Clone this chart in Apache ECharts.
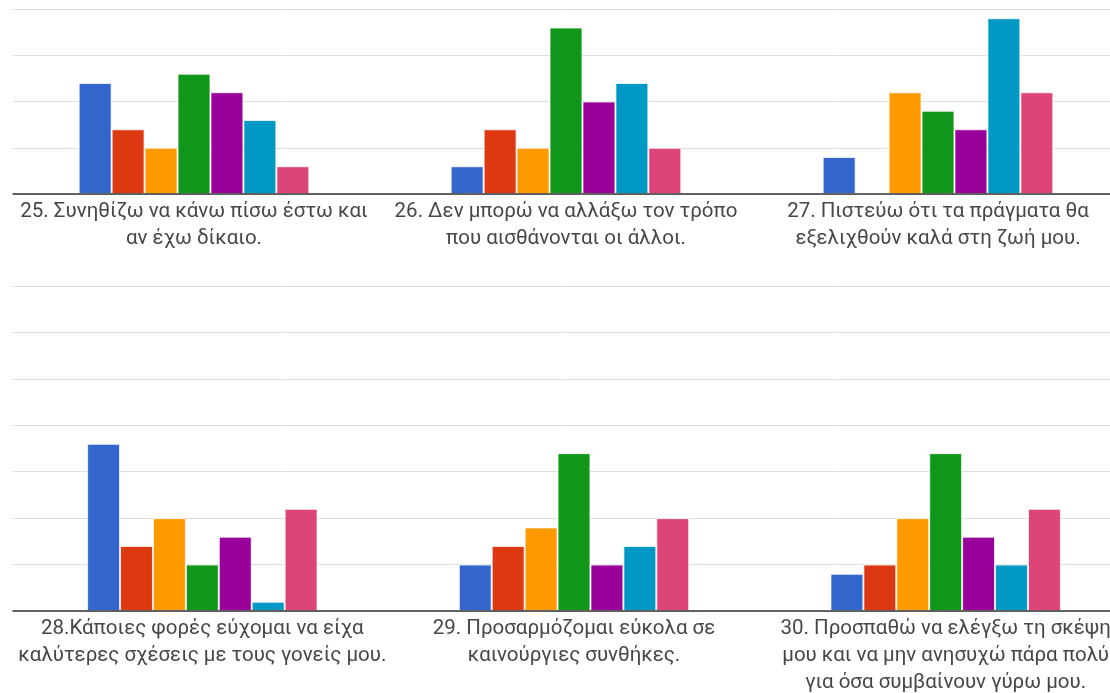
<!DOCTYPE html>
<html>
<head>
<meta charset="utf-8">
<script src="https://cdn.jsdelivr.net/npm/echarts@6/dist/echarts.min.js"></script>
<style>
  html, body { margin: 0; padding: 0; background: #fff; }
  #chart { width: 1110px; height: 693px; }
</style>
</head>
<body>
<div id="chart"></div>
<script>
// Questions, split into the two rows of the chart
const topQuestions = [
  '25. Συνηθίζω να κάνω πίσω έστω και\nαν έχω δίκαιο.',
  '26. Δεν μπορώ να αλλάξω τον τρόπο\nπου αισθάνονται οι άλλοι.',
  '27. Πιστεύω ότι τα πράγματα θα\nεξελιχθούν καλά στη ζωή μου.'
];
const bottomQuestions = [
  '28.Κάποιες φορές εύχομαι να είχα\nκαλύτερες σχέσεις με τους γονείς μου.',
  '29. Προσαρμόζομαι εύκολα σε\nκαινούργιες συνθήκες.',
  '30. Προσπαθώ να ελέγξω τη σκέψη\nμου και να μην ανησυχώ πάρα πολύ\nγια όσα συμβαίνουν γύρω μου.'
];

// Response counts per answer option, questions 25–30 in order
const option1 = [12, 3, 4, 18, 5, 4];
const option2 = [7, 7, 0, 7, 7, 5];
const option3 = [5, 5, 11, 10, 9, 10];
const option4 = [13, 18, 9, 5, 17, 17];
const option5 = [11, 10, 7, 8, 5, 8];
const option6 = [8, 12, 19, 1, 7, 5];
const option7 = [3, 5, 11, 11, 10, 11];

const optionNames = ['1', '2', '3', '4', '5', '6', '7'];
const optionData = [option1, option2, option3, option4, option5, option6, option7];
const optionColors = ['#3366cc', '#dc3912', '#ff9900', '#109618', '#990099', '#0099c6', '#dd4477'];

// Value axis ranges for each row
const topMax = 20;
const bottomMax = 35;
const tickStep = 5;

const chart = echarts.init(document.getElementById('chart'), null, { renderer: 'canvas' });

const gridLineColor = '#dedede';
const baseLineColor = '#333333';
const labelStyle = {
  fontFamily: 'Roboto, Arial, sans-serif',
  fontSize: 20.5,
  color: '#474747',
  lineHeight: 26.7
};

function backgroundAxes(gridIndex, max) {
  return {
    x: {
      gridIndex, type: 'value', min: 0, max: 1, z: 5,
      axisLine: { show: true, onZero: true, lineStyle: { color: baseLineColor, width: 1.5 } },
      axisTick: { show: false }, axisLabel: { show: false }, splitLine: { show: false }
    },
    y: {
      gridIndex, type: 'value', min: 0, max, interval: tickStep,
      axisLine: { show: false }, axisTick: { show: false }, axisLabel: { show: false },
      splitLine: { show: true, lineStyle: { color: gridLineColor, width: 1 } }
    }
  };
}

function barAxes(gridIndex, cats, max) {
  return {
    x: {
      gridIndex, type: 'category', data: cats,
      axisLine: { show: false }, axisTick: { show: false },
      axisLabel: Object.assign({ interval: 0, margin: 5, align: 'center', hideOverlap: false }, labelStyle),
      splitLine: { show: false }
    },
    y: {
      gridIndex, type: 'value', min: 0, max, interval: tickStep,
      axisLine: { show: false }, axisTick: { show: false }, axisLabel: { show: false },
      splitLine: { show: false }
    }
  };
}

const bgTop = backgroundAxes(0, topMax);
const bgBottom = backgroundAxes(1, bottomMax);
const barTop = barAxes(2, topQuestions, topMax);
const barBottom = barAxes(3, bottomQuestions, bottomMax);

const series = [];
optionNames.forEach((name, i) => {
  const common = {
    type: 'bar',
    name,
    barGap: '0%',
    barCategoryGap: '38%',
    itemStyle: { color: optionColors[i], borderColor: 'rgba(255,255,255,0.75)', borderWidth: 1 },
    emphasis: { disabled: true }
  };
  series.push(Object.assign({}, common, {
    xAxisIndex: 2, yAxisIndex: 2, data: optionData[i].slice(0, 3)
  }));
  series.push(Object.assign({}, common, {
    xAxisIndex: 3, yAxisIndex: 3, data: optionData[i].slice(3, 6)
  }));
});

chart.setOption({
  animation: false,
  backgroundColor: '#ffffff',
  grid: [
    { left: 13, right: 0, top: 9, bottom: 693 - 194, outerBoundsMode: 'none' },
    { left: 13, right: 0, top: 286, bottom: 693 - 611, outerBoundsMode: 'none' },
    { left: 8, right: -14, top: 9, bottom: 693 - 194, outerBoundsMode: 'none' },
    { left: 16.5, right: -21.5, top: 286, bottom: 693 - 611, outerBoundsMode: 'none' }
  ],
  xAxis: [bgTop.x, bgBottom.x, barTop.x, barBottom.x],
  yAxis: [bgTop.y, bgBottom.y, barTop.y, barBottom.y],
  series
});
</script>
</body>
</html>
